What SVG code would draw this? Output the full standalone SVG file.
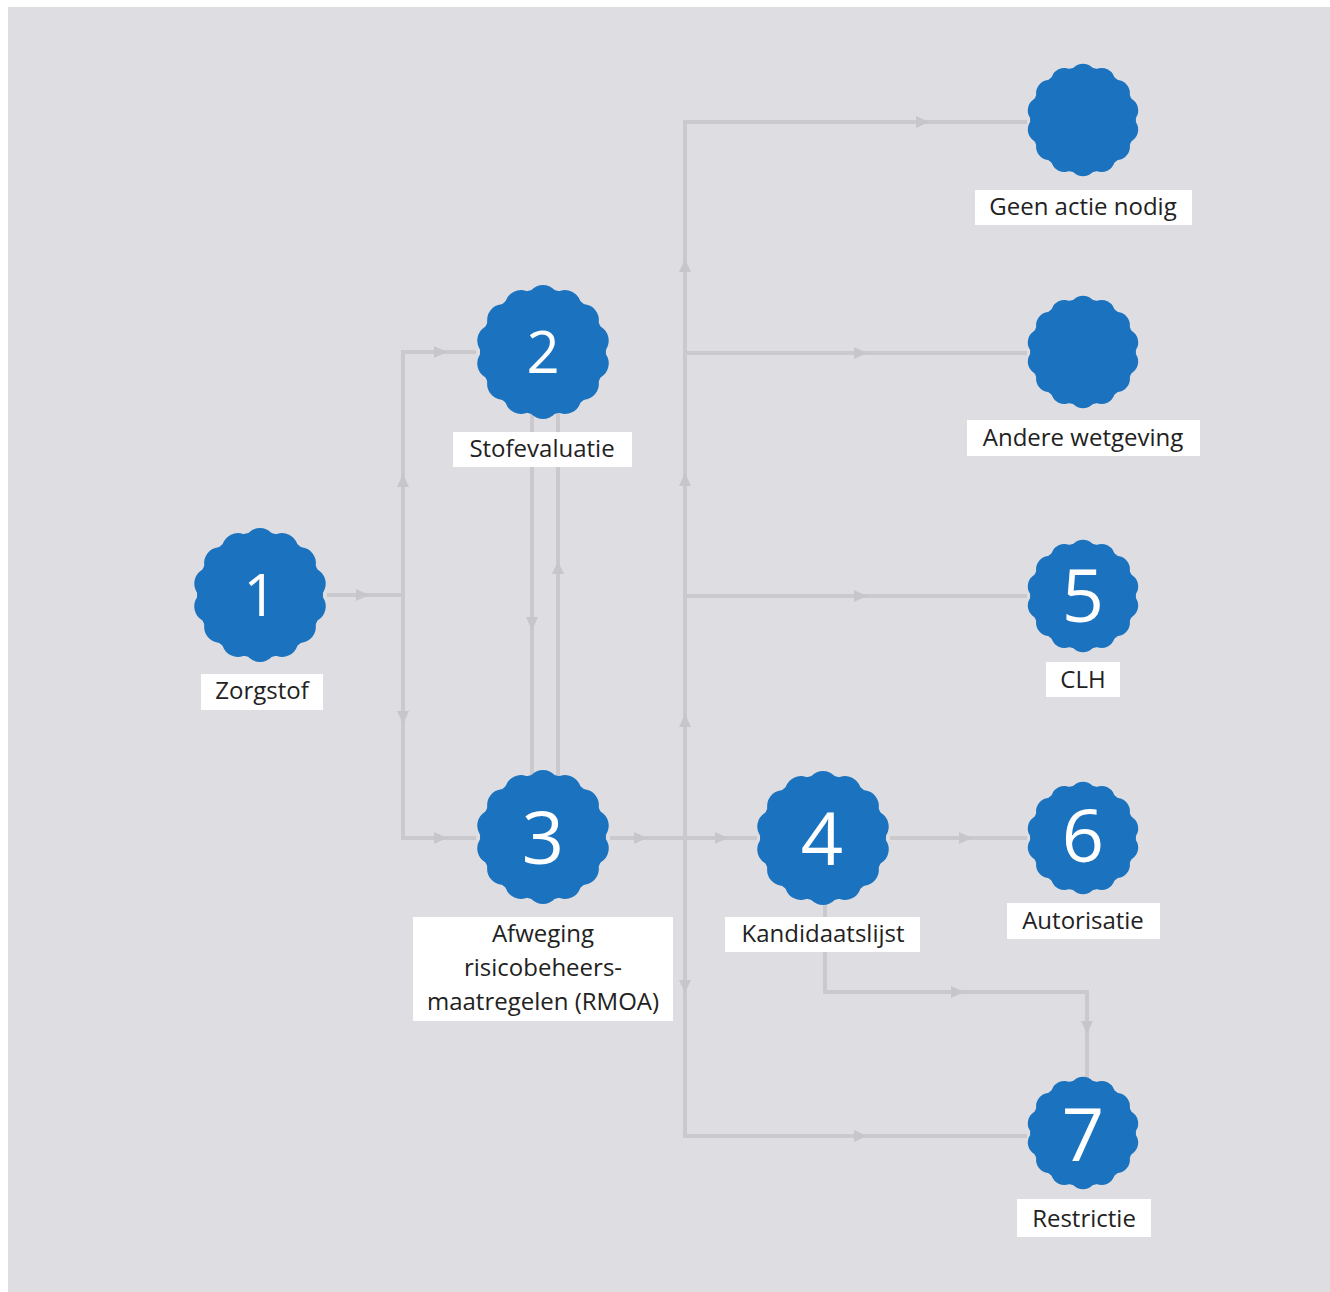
<svg xmlns="http://www.w3.org/2000/svg" xmlns:xlink="http://www.w3.org/1999/xlink" width="1330" height="1292" viewBox="0 0 1330 1292">
<style>
.ln{fill:none;stroke:#c9c9ce;stroke-width:4}
.ah{fill:#c6c6cb}
.badge{fill:#1b73bf}
.lb{fill:#ffffff}
.tx{font-family:"Open Sans","Liberation Sans",sans-serif;font-size:24px;fill:#222222;text-anchor:middle}
.num{font-family:"Open Sans","Liberation Sans",sans-serif;font-weight:400;fill:#ffffff;text-anchor:middle}
.n1{font-size:58px}
.n2{font-size:74px}
</style>
<defs>
<circle id="lobe" cx="0" cy="-51" r="16"/>
<g id="scallop">
<circle r="63"/>
<use href="#lobe"/>
<use href="#lobe" transform="rotate(25.714)"/>
<use href="#lobe" transform="rotate(51.429)"/>
<use href="#lobe" transform="rotate(77.143)"/>
<use href="#lobe" transform="rotate(102.857)"/>
<use href="#lobe" transform="rotate(128.571)"/>
<use href="#lobe" transform="rotate(154.286)"/>
<use href="#lobe" transform="rotate(180)"/>
<use href="#lobe" transform="rotate(205.714)"/>
<use href="#lobe" transform="rotate(231.429)"/>
<use href="#lobe" transform="rotate(257.143)"/>
<use href="#lobe" transform="rotate(282.857)"/>
<use href="#lobe" transform="rotate(308.571)"/>
<use href="#lobe" transform="rotate(334.286)"/>
</g>
<polygon id="ah" points="-6,-6 7,0 -6,6"/>
</defs>
<rect x="0" y="0" width="1330" height="1292" fill="#ffffff"/>
<rect x="8" y="7" width="1322" height="1285" fill="#dedde2"/>
<g id="connectors">
<path class="ln" d="M327 595 H403"/>
<path class="ln" d="M476 352 H403 V838 H476"/>
<path class="ln" d="M532 352 V838"/>
<path class="ln" d="M558 352 V838"/>
<path class="ln" d="M610 838 H757"/>
<path class="ln" d="M1027 122 H685 V1136 H1027"/>
<path class="ln" d="M685 353 H1027"/>
<path class="ln" d="M685 596 H1027"/>
<path class="ln" d="M890 838 H1027"/>
<path class="ln" d="M825 838 V992 H1087 V1080"/>
<g class="ah">
<use href="#ah" transform="translate(362,595)"/>
<use href="#ah" transform="translate(403,481) rotate(-90)"/>
<use href="#ah" transform="translate(403,717) rotate(90)"/>
<use href="#ah" transform="translate(440,352)"/>
<use href="#ah" transform="translate(440,838)"/>
<use href="#ah" transform="translate(532,623) rotate(90)"/>
<use href="#ah" transform="translate(558,568) rotate(-90)"/>
<use href="#ah" transform="translate(640,838)"/>
<use href="#ah" transform="translate(721,838)"/>
<use href="#ah" transform="translate(685,266) rotate(-90)"/>
<use href="#ah" transform="translate(685,480) rotate(-90)"/>
<use href="#ah" transform="translate(685,721) rotate(-90)"/>
<use href="#ah" transform="translate(685,986) rotate(90)"/>
<use href="#ah" transform="translate(922,122)"/>
<use href="#ah" transform="translate(860,353)"/>
<use href="#ah" transform="translate(860,596)"/>
<use href="#ah" transform="translate(860,1136)"/>
<use href="#ah" transform="translate(965,838)"/>
<use href="#ah" transform="translate(957,992)"/>
<use href="#ah" transform="translate(1087,1027) rotate(90)"/>
</g>
</g>
<g id="node1">
<use class="badge" href="#scallop" transform="translate(260,595)"/>
<text class="num n1" x="260" y="616">1</text>
<rect class="lb" x="201" y="674" width="122" height="36"/>
<text class="tx" x="262" y="699">Zorgstof</text>
</g>
<g id="node2">
<use class="badge" href="#scallop" transform="translate(543,352)"/>
<text class="num n1" x="543" y="373">2</text>
<rect class="lb" x="453" y="432" width="179" height="35"/>
<text class="tx" x="542" y="457">Stofevaluatie</text>
</g>
<g id="node3">
<use class="badge" href="#scallop" transform="translate(543,837)"/>
<text class="num n2" x="543" y="864">3</text>
<rect class="lb" x="413" y="917" width="260" height="104"/>
<text class="tx" x="543" y="942">Afweging</text>
<text class="tx" x="543" y="976">risicobeheers-</text>
<text class="tx" x="543" y="1010">maatregelen (RMOA)</text>
</g>
<g id="node4">
<use class="badge" href="#scallop" transform="translate(823,838)"/>
<text class="num n2" x="822" y="865">4</text>
<rect class="lb" x="725" y="917" width="195" height="35"/>
<text class="tx" x="823" y="942">Kandidaatslijst</text>
</g>
<g id="node-geen">
<use class="badge" href="#scallop" transform="translate(1083,120) scale(0.84)"/>
<rect class="lb" x="975" y="190" width="217" height="35"/>
<text class="tx" x="1083" y="215">Geen actie nodig</text>
</g>
<g id="node-andere">
<use class="badge" href="#scallop" transform="translate(1083,352) scale(0.84)"/>
<rect class="lb" x="967" y="420" width="233" height="36"/>
<text class="tx" x="1083" y="446">Andere wetgeving</text>
</g>
<g id="node5">
<use class="badge" href="#scallop" transform="translate(1083,596) scale(0.84)"/>
<text class="num n2" x="1083" y="622">5</text>
<rect class="lb" x="1046" y="662" width="74" height="35"/>
<text class="tx" x="1083" y="688">CLH</text>
</g>
<g id="node6">
<use class="badge" href="#scallop" transform="translate(1083,838) scale(0.84)"/>
<text class="num n2" x="1083" y="862">6</text>
<rect class="lb" x="1007" y="903" width="153" height="36"/>
<text class="tx" x="1083" y="929">Autorisatie</text>
</g>
<g id="node7">
<use class="badge" href="#scallop" transform="translate(1083,1133) scale(0.84)"/>
<text class="num n2" x="1083" y="1161">7</text>
<rect class="lb" x="1017" y="1199" width="134" height="38"/>
<text class="tx" x="1084" y="1227">Restrictie</text>
</g>
</svg>
